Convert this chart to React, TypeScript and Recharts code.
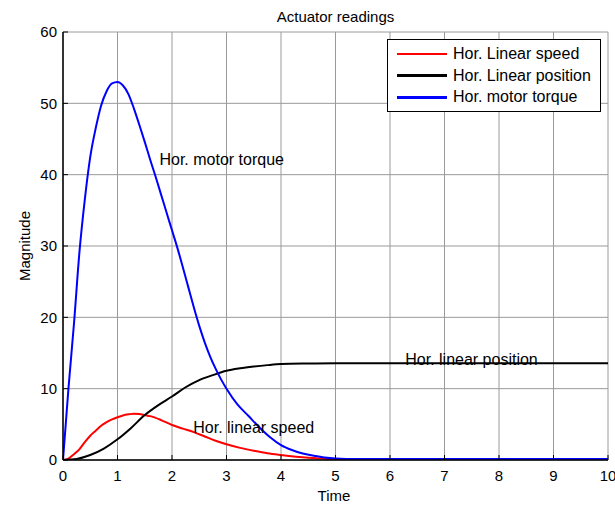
import * as React from "react";
import {
  LineChart, Line, XAxis, YAxis, CartesianGrid, ReferenceDot,
} from "recharts";

// Hor. linear speed
const speedT = [0, 0.1, 0.2, 0.3, 0.4, 0.5, 0.6, 0.7, 0.8, 0.9, 1.0, 1.1, 1.2, 1.3, 1.4, 1.5, 1.6, 1.8, 2.0, 2.2, 2.4, 2.6, 2.8, 3.0, 3.25, 3.5, 3.75, 4.0, 4.5, 5.0, 5.3, 6, 7, 8, 9, 10];
const speedV = [0, 0.2, 0.8, 1.5, 2.5, 3.4, 4.1, 4.8, 5.3, 5.7, 6.0, 6.25, 6.4, 6.5, 6.45, 6.3, 6.15, 5.6, 4.9, 4.4, 3.9, 3.3, 2.7, 2.2, 1.7, 1.3, 0.95, 0.7, 0.3, 0.1, 0.03, 0.02, 0.02, 0.02, 0.02, 0.02];

// Hor. linear position
const positionT = [0, 0.25, 0.5, 0.75, 1.0, 1.25, 1.5, 1.75, 2.0, 2.25, 2.5, 2.75, 3.0, 3.25, 3.5, 3.75, 4.0, 4.5, 5, 6, 7, 8, 9, 10];
const positionV = [0, 0.15, 0.7, 1.6, 2.9, 4.5, 6.3, 7.7, 8.9, 10.2, 11.2, 11.9, 12.5, 12.85, 13.1, 13.3, 13.45, 13.52, 13.55, 13.55, 13.55, 13.55, 13.55, 13.55];

// Hor. motor torque
const torqueT = [0, 0.05, 0.1, 0.15, 0.2, 0.3, 0.4, 0.5, 0.6, 0.7, 0.8, 0.9, 1.0, 1.1, 1.2, 1.3, 1.4, 1.5, 1.6, 1.7, 1.8, 1.9, 2.0, 2.1, 2.2, 2.3, 2.4, 2.5, 2.6, 2.7, 2.8, 2.9, 3.0, 3.2, 3.4, 3.6, 3.8, 4.0, 4.2, 4.4, 4.6, 4.8, 5.0, 5.2, 6, 7, 8, 9, 10];
const torqueV = [0, 5, 10, 14.5, 19, 29, 36.5, 42.5, 46.5, 49.7, 51.7, 52.8, 53.0, 52.5, 51.3, 49.3, 47.0, 44.6, 42.1, 39.7, 37.2, 34.7, 32.2, 29.7, 27.0, 24.2, 21.4, 18.8, 16.5, 14.5, 12.8, 11.3, 10.0, 7.8, 6.2, 4.6, 3.2, 2.1, 1.4, 0.9, 0.6, 0.35, 0.2, 0.15, 0.15, 0.15, 0.15, 0.15, 0.15];

const xTicks = [0, 1, 2, 3, 4, 5, 6, 7, 8, 9, 10];
const yTicks = [0, 10, 20, 30, 40, 50, 60];

const zip = (t: number[], v: number[]) => t.map((x, i) => ({ t: x, v: v[i] }));

const FONT = "'Liberation Sans', Arial, sans-serif";

const series = [
  { name: "Hor. Linear speed", color: "#ff0000", data: zip(speedT, speedV) },
  { name: "Hor. Linear position", color: "#000000", data: zip(positionT, positionV) },
  { name: "Hor. motor torque", color: "#0000ff", data: zip(torqueT, torqueV) },
];

const notes = [
  { t: 1.77, v: 42.2, text: "Hor. motor torque" },
  { t: 2.39, v: 4.6, text: "Hor. linear speed" },
  { t: 6.28, v: 14.05, text: "Hor. linear position" },
];

function LegendBox() {
  return (
    <div style={{
      position: "absolute", left: 387, top: 39, width: 214, height: 73, boxSizing: "border-box",
      border: "1.5px solid #000", background: "#fff", padding: "3px 0 0 9px", fontFamily: FONT, fontSize: 16,
    }}>
      {series.map((s) => (
        <div key={s.name} style={{ display: "flex", alignItems: "center", height: 21.8 }}>
          <div style={{ width: 50, height: 2.5, background: s.color, marginRight: 6 }} />
          <span>{s.name}</span>
        </div>
      ))}
    </div>
  );
}

export default function App() {
  const tickStyle = { fill: "#000", fontSize: 15, fontFamily: FONT };
  return (
    <div style={{ position: "absolute", left: 0, top: 0, width: 615, height: 508, background: "#fff" }}>
      <div style={{ position: "absolute", left: 0, width: 671, top: 8, lineHeight: "18px", textAlign: "center", fontFamily: FONT, fontSize: 15 }}>
        Actuator readings
      </div>
      <div style={{ position: "absolute", left: 0, width: 668, top: 487, lineHeight: "18px", textAlign: "center", fontFamily: FONT, fontSize: 15 }}>
        Time
      </div>
      <div style={{ position: "absolute", left: 24, top: 246, transform: "translate(-50%, -50%) rotate(-90deg)", fontFamily: FONT, fontSize: 15, whiteSpace: "nowrap" }}>
        Magnitude
      </div>
      <LineChart width={615} height={508} margin={{ top: 32, right: 7, left: 33, bottom: 28 }}>
        <CartesianGrid stroke="#9a9a9a" strokeWidth={1} horizontalValues={yTicks} verticalValues={xTicks} />
        <XAxis
          xAxisId={0}
          dataKey="t"
          type="number"
          domain={[0, 10]}
          ticks={xTicks}
          allowDataOverflow
          height={20}
          tickSize={-5}
          tickMargin={15}
          tickLine={{ stroke: "#000" }}
          axisLine={{ stroke: "#000", strokeWidth: 1.5 }}
          tick={tickStyle}
          interval={0}
        />
        <XAxis
          xAxisId="top"
          orientation="top"
          type="number"
          domain={[0, 10]}
          ticks={xTicks}
          allowDataOverflow
          height={0}
          tickSize={-5}
          tick={false}
          tickLine={{ stroke: "#000" }}
          axisLine={{ stroke: "#000", strokeWidth: 1.5 }}
        />
        <YAxis
          yAxisId={0}
          type="number"
          domain={[0, 60]}
          ticks={yTicks}
          allowDataOverflow
          width={30}
          tickSize={-5}
          tickMargin={11}
          tickLine={{ stroke: "#000" }}
          axisLine={{ stroke: "#000", strokeWidth: 1.5 }}
          tick={tickStyle}
          interval={0}
        />
        <YAxis
          yAxisId="right"
          orientation="right"
          type="number"
          domain={[0, 60]}
          ticks={yTicks}
          allowDataOverflow
          width={0}
          tickSize={-5}
          tick={false}
          tickLine={{ stroke: "#000" }}
          axisLine={{ stroke: "#000", strokeWidth: 1.5 }}
        />
        {series.map((s) => (
          <Line
            key={s.name}
            data={s.data}
            dataKey="v"
            name={s.name}
            type="monotone"
            stroke={s.color}
            strokeWidth={2}
            dot={false}
            activeDot={false}
            isAnimationActive={false}
          />
        ))}
        {notes.map((n) => (
          <ReferenceDot
            key={n.text}
            x={n.t}
            y={n.v}
            r={0}
            stroke="none"
            fill="none"
            label={{ value: n.text, position: "right", offset: 0, fill: "#000", fontSize: 16, fontFamily: FONT }}
          />
        ))}
      </LineChart>
      <LegendBox />
    </div>
  );
}
